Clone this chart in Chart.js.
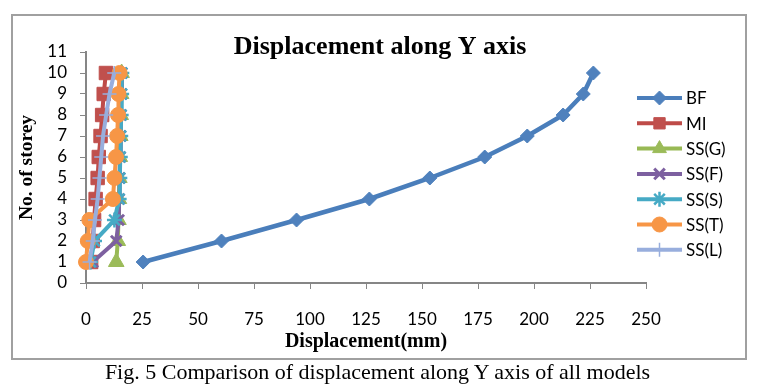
<!DOCTYPE html>
<html><head><meta charset="utf-8">
<script src="https://cdn.jsdelivr.net/npm/chart.js@4/dist/chart.umd.min.js"></script>
<style>
html,body{margin:0;padding:0;background:#fff;}
#wrap{position:relative;width:763px;height:389px;overflow:hidden;}
#c{position:absolute;left:0;top:0;}
#caption{position:absolute;left:-4px;width:763px;top:359px;line-height:25px;text-align:center;font-family:"Liberation Serif","Times New Roman",serif;font-size:22px;color:#000;white-space:nowrap;}
</style></head><body>
<div id="wrap"><canvas id="c" width="763" height="389" style="width:763px;height:389px"></canvas>
<div id="caption">Fig. 5 Comparison of displacement along Y axis of all models</div></div>
<script>
// ---- data ----
const storeys = [1, 2, 3, 4, 5, 6, 7, 8, 9, 10];
const seriesNames = ['BF', 'MI', 'SS(G)', 'SS(F)', 'SS(S)', 'SS(T)', 'SS(L)'];
const BF   = [25.5, 60.5, 94, 126.5, 153.5, 178, 197, 213, 222, 226.5];
const MI   = [2.3, 3.0, 3.6, 4.3, 5.2, 5.7, 6.5, 7.2, 7.9, 8.9];
const SS_G = [13.5, 14.2, 14.5, 14.7, 14.9, 15.1, 15.3, 15.5, 15.7, 15.9];
const SS_F = [3.0, 13.5, 14.6, 14.8, 15.0, 15.2, 15.4, 15.6, 15.8, 16.0];
const SS_S = [2.0, 3.8, 12.7, 14.8, 15.1, 15.3, 15.5, 15.7, 15.9, 16.0];
const SS_T = [0, 0.8, 1.5, 12.0, 12.7, 13.4, 13.9, 14.3, 14.5, 15.0];
const SS_L = [1.6, 3.0, 4.0, 5.2, 6.0, 6.8, 7.6, 9.0, 10.5, 12.6];
const xTicks = [0, 25, 50, 75, 100, 125, 150, 175, 200, 225, 250];
const yTicks = [0, 1, 2, 3, 4, 5, 6, 7, 8, 9, 10, 11];
const chartTitle = 'Displacement along Y axis';

const allSeries = [BF, MI, SS_G, SS_F, SS_S, SS_T, SS_L];
const styles = [
  {color:'#4A7EBB', fill:'#4F81BD', point:'rectRot', r:7, bw:1},
  {color:'#BE4B48', fill:'#C0504D', point:'rect', r:9.5, bw:1},
  {color:'#98B954', fill:'#9BBB59', point:'triangle', r:9, bw:1},
  {color:'#7D60A0', fill:'#7D60A0', point:'crossRot', r:7.5, bw:3},
  {color:'#46AAC5', fill:'#46AAC5', point:'star', r:7.5, bw:2.5},
  {color:'#F79646', fill:'#F79646', point:'circle', r:7.5, bw:1},
  {color:'#98AEDD', fill:'#98AEDD', point:'cross', r:7, bw:1.5}
];

const datasets = allSeries.map((arr, i) => ({
  label: seriesNames[i],
  data: arr.map((v, k) => ({x: v, y: storeys[k]})),
  borderColor: styles[i].color,
  backgroundColor: styles[i].fill,
  borderWidth: i === 0 ? 4.5 : 4,
  pointStyle: styles[i].point,
  pointRadius: styles[i].r,
  pointBorderWidth: styles[i].bw,
  pointBorderColor: styles[i].fill,
  pointBackgroundColor: styles[i].fill,
  tension: 0,
  clip: false,
  order: allSeries.length - i
}));

const tickFont = {family: 'Lato, "Liberation Sans", sans-serif', size: 17};
const serif = '"Liberation Serif", "Times New Roman", serif';
const axisGray = '#868686';

const frame = {
  id: 'frame',
  beforeDraw(chart) {
    const ctx = chart.ctx;
    ctx.save();
    ctx.fillStyle = '#000';
    ctx.font = 'bold 26px ' + serif;
    ctx.textAlign = 'center';
    ctx.textBaseline = 'middle';
    ctx.fillText(chartTitle, 380, 47);
    ctx.restore();
  },
  afterDraw(chart) {
    const ctx = chart.ctx;
    ctx.save();
    ctx.strokeStyle = '#A0A0A0';
    ctx.lineWidth = 2;
    ctx.strokeRect(12, 15, 734, 344);
    ctx.restore();
  }
};

const customLegend = {
  id: 'customLegend',
  afterDraw(chart) {
    const ctx = chart.ctx;
    ctx.save();
    chart.data.datasets.forEach((ds, i) => {
      const y = 98 + i * 25.3;
      ctx.strokeStyle = ds.borderColor;
      ctx.lineWidth = 4;
      ctx.beginPath(); ctx.moveTo(637, y); ctx.lineTo(682, y); ctx.stroke();
      ctx.fillStyle = ds.pointBackgroundColor;
      ctx.strokeStyle = ds.pointBorderColor;
      ctx.lineWidth = ds.pointBorderWidth;
      const r = Math.min(ds.pointRadius, 8);
      Chart.helpers.drawPoint(ctx, {pointStyle: ds.pointStyle, radius: r, borderWidth: ds.pointBorderWidth, rotation: 0}, 659.5, y);
      ctx.fillStyle = '#000';
      ctx.font = '17px Lato, "Liberation Sans", sans-serif';
      ctx.textBaseline = 'middle';
      ctx.textAlign = 'left';
      ctx.fillText(ds.label, 686, y + 1);
    });
    ctx.restore();
  }
};

new Chart(document.getElementById('c'), {
  type: 'line',
  data: {datasets},
  options: {
    responsive: false,
    animation: false,
    devicePixelRatio: 1,
    layout: {padding: {left: 0, right: 117, top: 52, bottom: 30}},
    plugins: {
      legend: {display: false},
      tooltip: {enabled: false},
      title: {display: false}
    },
    scales: {
      x: {
        type: 'linear', min: 0, max: 250,
        afterBuildTicks: s => { s.ticks = xTicks.map(v => ({value: v})); },
        afterFit: s => { s.height = 76; },
        grid: {drawOnChartArea: false, drawTicks: true, tickLength: 6, color: axisGray, lineWidth: 1},
        border: {display: true, color: axisGray, width: 2},
        ticks: {color: '#000', font: tickFont, padding: 20, maxRotation: 0, autoSkip: false},
        title: {display: true, text: 'Displacement(mm)', color: '#000',
          font: {family: serif, size: 20, weight: 'bold', lineHeight: 1.2},
          padding: {top: 0, bottom: 5}}
      },
      y: {
        type: 'linear', min: 0, max: 11,
        afterBuildTicks: s => { s.ticks = yTicks.map(v => ({value: v})); },
        afterFit: s => { s.width = 86; },
        grid: {drawOnChartArea: false, drawTicks: true, tickLength: 6, color: axisGray, lineWidth: 1},
        border: {display: true, color: axisGray, width: 2},
        ticks: {color: '#000', font: tickFont, padding: 13, autoSkip: false},
        title: {display: true, text: 'No. of storey', color: '#000',
          font: {family: serif, size: 19.5, weight: 'bold', lineHeight: 1.2},
          padding: {top: 15.3, bottom: 0}}
      }
    }
  },
  plugins: [frame, customLegend]
});
</script>
</body></html>
